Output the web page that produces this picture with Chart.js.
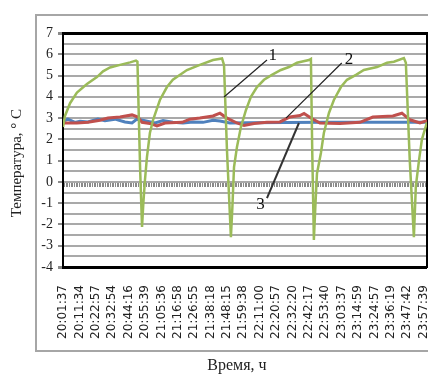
<!DOCTYPE html>
<html>
<head>
<meta charset="utf-8">
<script src="https://cdn.jsdelivr.net/npm/chart.js@4"></script>
<style>
    body { margin: 0; background: #fff; }
    #frame { position: absolute; left: 35px; top: 14px; width: 400px; height: 334px; border: 2px solid #a6a6a6; }
    #wrap { position: absolute; left: 0; top: 0; width: 428px; height: 377px; }
</style>
</head>
<body>
<div id="frame"></div>
<div id="wrap"><canvas id="chart"></canvas></div>
<script>
// подписи оси времени
const timeLabels = ['20:01:37', '20:11:34', '20:22:57', '20:32:54', '20:44:16', '20:55:39', '21:05:36', '21:16:58',
    '21:26:55', '21:38:18', '21:48:15', '21:59:38', '22:11:00', '22:20:57', '22:32:20', '22:42:17', '22:53:40',
    '23:03:37', '23:14:59', '23:24:57', '23:36:19', '23:47:42', '23:57:39'];

// деления температуры (линии сетки через 0,5)
const tempTicks = [-4, -3.5, -3, -2.5, -2, -1.5, -1, -0.5, 0, 0.5, 1, 1.5, 2, 2.5, 3, 3.5, 4, 4.5, 5, 5.5, 6, 6.5, 7];

// 1 - зелёная кривая (позиция в шагах подписи, температура)
const greenX = [0, 0.12, 0.43, 0.85, 1.46, 2.07, 2.44, 2.87, 3.48, 4.09, 4.45, 4.54, 4.7, 4.82, 4.9, 5.0, 5.12, 5.3, 5.49, 5.91,
    6.34, 6.7, 7.56, 8.35, 9.15, 9.7, 9.82, 10.0, 10.24, 10.33, 10.43, 10.61, 10.85, 11.16, 11.46, 11.83, 12.26, 12.74, 13.29, 13.78,
    14.27, 15.0, 15.12, 15.2, 15.3, 15.4, 15.49, 15.73, 15.91, 16.22, 16.52, 16.95, 17.32, 17.87, 18.35, 19.15, 19.76, 20.18, 20.79, 20.91,
    21.15, 21.4, 21.52, 21.71, 21.89, 22.2];
const greenY = [2.58, 3.1, 3.7, 4.2, 4.6, 4.93, 5.2, 5.38, 5.5, 5.62, 5.7, 5.65, 0.7, -2.12, -1.0, 0.1, 1.17, 2.3, 2.9, 3.85,
    4.46, 4.8, 5.26, 5.5, 5.73, 5.8, 5.5, 1.5, -2.6, -1.2, 0.7, 1.64, 2.58, 3.38, 4.0, 4.46, 4.8, 5.03, 5.26, 5.4,
    5.6, 5.73, 5.78, 1.5, -2.73, -1.0, 0.4, 1.36, 2.3, 3.24, 3.85, 4.46, 4.8, 5.03, 5.26, 5.4, 5.6, 5.65, 5.82, 5.6,
    1.0, -2.6, -0.2, 1.0, 2.0, 2.8];

// 2 - красная
const redX = [0, 0.85, 1.52, 2.26, 2.74, 3.48, 4.21, 4.57, 4.82, 5.3, 5.73, 6.22, 7.26, 7.74, 8.35, 9.15, 9.57, 10.0, 10.61, 11.04,
    11.65, 12.44, 13.23, 13.84, 14.45, 14.7, 15.12, 15.67, 16.89, 18.11, 18.9, 20.12, 20.67, 21.16, 21.77, 22.2];
const redY = [2.77, 2.77, 2.8, 2.9, 3.0, 3.05, 3.15, 3.05, 2.8, 2.75, 2.63, 2.77, 2.8, 2.95, 3.0, 3.1, 3.23, 3.0, 2.77, 2.65,
    2.75, 2.8, 2.82, 3.05, 3.12, 3.22, 3.0, 2.77, 2.74, 2.8, 3.05, 3.1, 3.23, 2.92, 2.77, 2.88];

// 3 - синяя
const blueX = [0, 0.3, 0.73, 1.04, 1.52, 2.13, 2.56, 3.17, 3.78, 4.21, 4.51, 5.0, 5.61, 6.1, 6.7, 7.32, 7.93, 8.54, 9.15, 9.57,
    10.18, 11.22, 16.0, 22.2];
const blueY = [2.85, 2.95, 2.8, 2.85, 2.82, 2.95, 2.88, 2.95, 2.82, 2.77, 2.95, 2.88, 2.77, 2.88, 2.8, 2.77, 2.82, 2.8, 2.9, 2.86,
    2.77, 2.78, 2.8, 2.8];

// выноски с номерами кривых
const leaderLabels = ['1', '2', '3'];
const leaderFrom = [[9.82, 3.99], [13.6, 3.0], [14.39, 2.77]];
const leaderTo = [[12.44, 5.73], [17.0, 5.59], [12.44, -0.76]];
const leaderText = [[12.8, 5.95], [17.45, 5.75], [12.05, -1.05]];

const X_MAX = 22.2;
const serif = '"Liberation Serif", "Times New Roman", serif';
const nb = n => '\u00a0'.repeat(n);
const isEdge = v => v === 7 || v === -4;

const toPoints = (xs, ys) => xs.map((x, i) => ({ x: x, y: ys[i] }));

const leaders = {
    id: 'leaders',
    afterDatasetsDraw(chart) {
        const { ctx, scales: { x, y } } = chart;
        ctx.save();
        leaderLabels.forEach((t, i) => {
            ctx.beginPath();
            ctx.strokeStyle = i === 2 ? '#333' : '#222';
            ctx.lineWidth = i === 2 ? 2 : 1.2;
            ctx.moveTo(x.getPixelForValue(leaderFrom[i][0]), y.getPixelForValue(leaderFrom[i][1]));
            ctx.lineTo(x.getPixelForValue(leaderTo[i][0]), y.getPixelForValue(leaderTo[i][1]));
            ctx.stroke();
            ctx.fillStyle = '#111';
            ctx.font = '17px ' + serif;
            ctx.textAlign = 'center';
            ctx.textBaseline = 'middle';
            ctx.fillText(t, x.getPixelForValue(leaderText[i][0]), y.getPixelForValue(leaderText[i][1]));
        });
        ctx.restore();
    }
};

new Chart(document.getElementById('chart'), {
    type: 'line',
    data: {
        datasets: [
            { label: '1', data: toPoints(greenX, greenY), borderColor: '#9bbb59', borderWidth: 2.5 },
            { label: '2', data: toPoints(redX, redY), borderColor: '#c0504d', borderWidth: 3 },
            { label: '3', data: toPoints(blueX, blueY), borderColor: '#4f81bd', borderWidth: 3 }
        ]
    },
    options: {
        responsive: true,
        maintainAspectRatio: false,
        animation: false,
        layout: { padding: { top: 33, left: 0, right: 0, bottom: 0 } },
        elements: { point: { radius: 0 }, line: { tension: 0 } },
        plugins: { legend: { display: false }, tooltip: { enabled: false } },
        scales: {
            x: {
                type: 'linear', min: 0, max: X_MAX, position: 'bottom',
                grid: { display: false },
                border: { display: false },
                afterBuildTicks: axis => { axis.ticks = timeLabels.map((_, i) => ({ value: i })); },
                afterFit: s => { s.height = 110; s.paddingLeft = 0; s.paddingRight = 0; },
                ticks: {
                    autoSkip: false, minRotation: 90, maxRotation: 90, padding: 10,
                    color: '#222', font: { family: '"DejaVu Sans"', size: 12 },
                    callback: (v, i) => timeLabels[i]
                },
                title: {
                    display: true, text: 'Время, ч' + nb(4), color: '#222',
                    font: { family: serif, size: 16 }, padding: { top: 0, bottom: 2 }
                }
            },
            xz: {
                type: 'linear', min: 0, max: X_MAX, position: { y: 0 },
                grid: { display: true, drawOnChartArea: false, drawTicks: true, tickLength: 5, color: '#8a8a8a', lineWidth: 1 },
                border: { display: false },
                ticks: { display: false },
                afterBuildTicks: axis => {
                    const t = [];
                    for (let i = 0; i <= Math.round(X_MAX * 10); i++) t.push({ value: i / 10 });
                    axis.ticks = t;
                }
            },
            y: {
                min: -4, max: 7,
                afterBuildTicks: axis => { axis.ticks = tempTicks.map(v => ({ value: v })); },
                afterFit: s => { s.width = 63; },
                border: { display: true, color: '#000', width: 2 },
                grid: {
                    display: true,
                    drawOnChartArea: true,
                    color: c => (c.tick && isEdge(c.tick.value)) ? '#000000' : '#a9a9a9',
                    lineWidth: c => (c.tick && isEdge(c.tick.value)) ? 3 : 2,
                    tickColor: c => (c.tick && Number.isInteger(c.tick.value)) ? '#8a8a8a' : 'rgba(0,0,0,0)',
                    tickLength: 5
                },
                ticks: {
                    autoSkip: false, padding: 5, color: '#222',
                    font: { family: serif, size: 14 },
                    callback: v => Number.isInteger(v) ? String(v) : ''
                },
                title: {
                    display: true, text: 'Температура, ° С' + nb(7), color: '#222',
                    font: { family: serif, size: 15 }, padding: { top: 8, bottom: 0 }
                }
            },
            y2: {
                position: 'right',
                grid: { display: false },
                ticks: { display: false },
                border: { display: true, color: '#000', width: 2 },
                afterFit: s => { s.width = 1; }
            }
        }
    },
    plugins: [leaders]
});
</script>
</body>
</html>
